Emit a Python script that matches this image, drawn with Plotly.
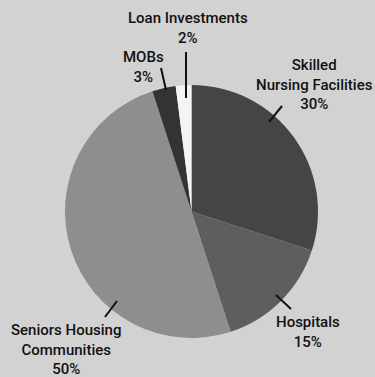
import plotly.graph_objects as go

# Portfolio composition by investment type
categories = ["Skilled<br>Nursing Facilities", "Hospitals", "Seniors Housing<br>Communities",
              "MOBs", "Loan Investments"]
shares = [30, 15, 50, 3, 2]
slice_colors = ["#454545", "#5e5e5e", "#8e8e8e", "#333333", "#f4f4f4"]

W, H = 375, 377


def px(x):
    return x / W


def py(y):
    return 1 - y / H


fig = go.Figure(go.Pie(
    labels=categories,
    values=shares,
    sort=False,
    direction="clockwise",
    rotation=0,
    marker=dict(colors=slice_colors, line=dict(width=0)),
    textinfo="none",
    hoverinfo="skip",
    showlegend=False,
    domain=dict(x=[px(65), px(318)], y=[py(338), py(85)]),
))

# label placement (pixel centres) and leader lines, in slice order
label_pos = [(314, 84.5), (308, 331.7), (65.5, 349.5), (143, 66.5), (188, 27.5)]
leaders = [((282, 106), (269, 122)),
           ((276, 295), (291, 309)),
           ((117, 301), (105, 317)),
           ((161, 68), (166, 90)),
           ((186, 52), (186, 98))]

for name, val, (lx, ly), ((x0, y0), (x1, y1)) in zip(categories, shares, label_pos, leaders):
    fig.add_annotation(
        x=px(lx), y=py(ly), xref="paper", yref="paper",
        text=f"{name}<br>{val}%", showarrow=False,
        xanchor="center", yanchor="middle", align="center",
        font=dict(family="Roboto", size=15, color="#111111", weight=500),
    )
    fig.add_shape(type="line", xref="paper", yref="paper",
                  x0=px(x0), y0=py(y0), x1=px(x1), y1=py(y1),
                  line=dict(color="#111111", width=2))

fig.update_layout(
    width=W, height=H,
    margin=dict(l=0, r=0, t=0, b=0),
    paper_bgcolor="#d2d2d2",
    plot_bgcolor="#d2d2d2",
)

fig.write_html("out.html", config={"displayModeBar": False})
